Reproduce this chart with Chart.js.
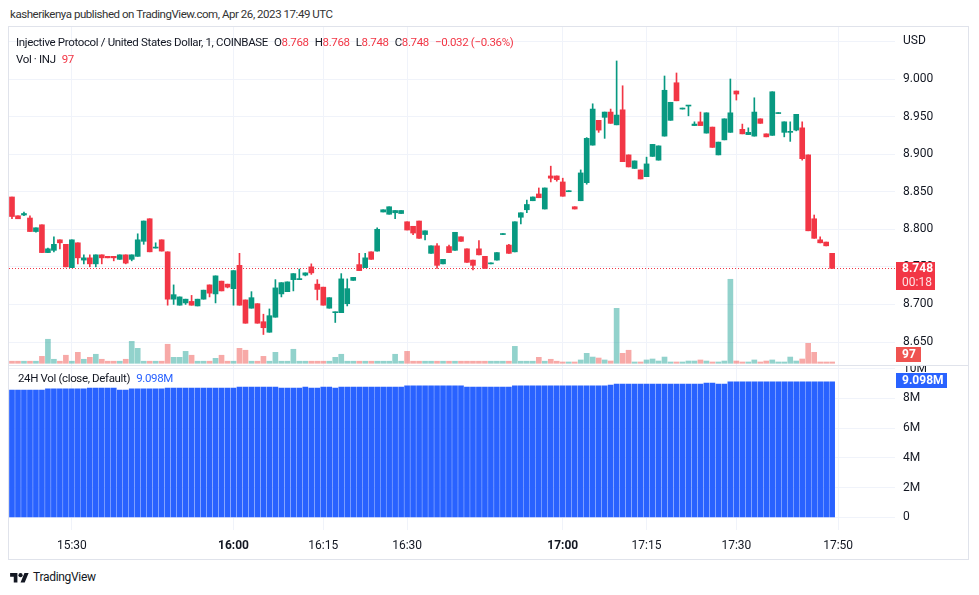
<!DOCTYPE html>
<html lang="en">
<head>
<meta charset="UTF-8">
<title>INJUSD 1m - TradingView</title>
<script src="https://cdn.jsdelivr.net/npm/chart.js"></script>
<style>
    * {
        margin: 0;
        padding: 0;
        box-sizing: border-box;
    }

    body {
        width: 979px;
        height: 595px;
        background: #fff;
        font-family: Roboto, 'Open Sans', sans-serif;
        color: #131722;
        position: relative;
        overflow: hidden;
    }

    .publisher {
        position: absolute;
        left: 10px;
        top: 6px;
        font-size: 11.5px;
        letter-spacing: -0.45px;
        line-height: 16px;
        color: #333;
    }

    .frame {
        position: absolute;
        left: 8px;
        top: 26px;
        width: 961px;
        height: 534px;
        border: 1px solid #e0e3eb;
    }

    .pane {
        position: absolute;
        left: 9px;
    }

    .separator {
        position: absolute;
        left: 9px;
        top: 365px;
        width: 959px;
        height: 1px;
        background: #e0e3eb;
    }

    .legend {
        position: absolute;
        font-size: 11.5px;
        letter-spacing: -0.35px;
        line-height: 16px;
        white-space: nowrap;
        z-index: 2;
    }

    .legend .item { margin-left: 6px; }
    .legend .red { color: #f23645; }
    .legend .blue { color: #2962ff; }

    .brand {
        position: absolute;
        left: 10px;
        top: 570px;
        display: flex;
        align-items: center;
        gap: 4px;
        font-size: 12px;
        letter-spacing: -0.3px;
        color: #131722;
    }
</style>
</head>
<body>
<div class="publisher">kasherikenya published on TradingView.com, Apr 26, 2023 17:49 UTC</div>
<div class="frame"></div>

<div class="pane" style="top:27px;width:959px;height:338px;">
    <canvas id="priceChart" width="959" height="338"></canvas>
</div>
<div class="separator"></div>
<div class="pane" style="top:366px;width:959px;height:193px;">
    <canvas id="volChart" width="959" height="193"></canvas>
</div>

<div class="legend" style="left:16px;top:34px;">Injective Protocol / United States Dollar, 1, COINBASE<span class="item">O<span class="red">8.768</span></span><span class="item">H<span class="red">8.768</span></span><span class="item">L<span class="red">8.748</span></span><span class="item">C<span class="red">8.748</span></span><span class="item red">−0.032 (−0.36%)</span></div>
<div class="legend" style="left:16px;top:51px;">Vol · INJ<span class="item red">97</span></div>
<div class="legend" style="left:18px;top:370px;">24H Vol (close, Default)<span class="item blue">9.098M</span></div>

<div class="brand">
    <svg width="19" height="12" viewBox="0 0 36 23"><path d="M14 22H7V11H0V4h14v18zM28 22h-8l7.5-18h8L28 22z" fill="#131722"/><circle cx="20" cy="8" r="4" fill="#131722"/></svg>
    <span>TradingView</span>
</div>

<script>
    // 1-minute candles, Apr 26 2023, INJ/USD on Coinbase
    const open = [
        8.843, 8.818, 8.819, 8.815, 8.797, 8.806, 8.769, 8.772, 8.786, 8.780,
        8.749, 8.782, 8.759, 8.762, 8.754, 8.766, 8.764, 8.764, 8.760, 8.766,
        8.760, 8.764, 8.784, 8.814, 8.775, 8.786, 8.770, 8.707, 8.699, 8.702,
        8.704, 8.698, 8.707, 8.726, 8.714, 8.731, 8.727, 8.721, 8.752, 8.706,
        8.695, 8.701, 8.677, 8.663, 8.683, 8.714, 8.717, 8.733, 8.733, 8.739,
        8.750, 8.727, 8.723, 8.695, 8.689, 8.689, 8.701, 8.732, 8.753, 8.749,
        8.770, 8.771, 8.823, 8.820, 8.822, 8.821, 8.810, 8.804, 8.811, 8.793,
        8.768, 8.778, 8.754, 8.777, 8.772, 8.790, 8.774, 8.759, 8.774, 8.764,
        8.754, 8.759, 8.793, 8.779, 8.770, 8.816, 8.826, 8.838, 8.847, 8.827,
        8.871, 8.871, 8.863, 8.850, 8.830, 8.838, 8.862, 8.912, 8.945, 8.949,
        8.956, 8.939, 8.959, 8.899, 8.881, 8.879, 8.870, 8.897, 8.892, 8.924,
        8.945, 8.995, 8.960, 8.964, 8.938, 8.943, 8.928, 8.936, 8.899, 8.919,
        8.929, 8.984, 8.933, 8.926, 8.924, 8.947, 8.927, 8.925, 8.954, 8.929,
        8.929, 8.932, 8.935, 8.899, 8.814, 8.786, 8.783, 8.768
    ];
    const high = [
        8.843, 8.818, 8.823, 8.818, 8.802, 8.806, 8.775, 8.790, 8.786, 8.780,
        8.786, 8.782, 8.766, 8.766, 8.766, 8.766, 8.764, 8.764, 8.766, 8.766,
        8.766, 8.794, 8.811, 8.814, 8.782, 8.786, 8.770, 8.726, 8.710, 8.707,
        8.712, 8.707, 8.719, 8.726, 8.738, 8.731, 8.727, 8.745, 8.768, 8.706,
        8.717, 8.701, 8.687, 8.694, 8.733, 8.729, 8.730, 8.741, 8.747, 8.742,
        8.754, 8.733, 8.723, 8.709, 8.690, 8.741, 8.734, 8.736, 8.768, 8.768,
        8.770, 8.802, 8.826, 8.830, 8.825, 8.825, 8.810, 8.804, 8.811, 8.798,
        8.778, 8.781, 8.760, 8.779, 8.796, 8.790, 8.774, 8.759, 8.785, 8.764,
        8.755, 8.769, 8.794, 8.780, 8.810, 8.822, 8.839, 8.843, 8.855, 8.855,
        8.884, 8.871, 8.868, 8.851, 8.830, 8.879, 8.922, 8.967, 8.945, 8.956,
        8.960, 9.024, 8.991, 8.899, 8.891, 8.879, 8.896, 8.913, 8.911, 9.004,
        8.969, 9.008, 8.961, 8.965, 8.943, 8.956, 8.955, 8.936, 8.916, 8.947,
        9.000, 8.984, 8.940, 8.935, 8.975, 8.947, 8.927, 8.983, 8.955, 8.943,
        8.943, 8.953, 8.943, 8.899, 8.819, 8.790, 8.783, 8.768
    ];
    const low = [
        8.814, 8.814, 8.818, 8.797, 8.796, 8.769, 8.769, 8.770, 8.774, 8.750,
        8.749, 8.754, 8.754, 8.750, 8.750, 8.754, 8.762, 8.758, 8.760, 8.754,
        8.758, 8.764, 8.780, 8.770, 8.775, 8.771, 8.699, 8.700, 8.699, 8.700,
        8.699, 8.698, 8.707, 8.710, 8.702, 8.718, 8.722, 8.699, 8.699, 8.675,
        8.695, 8.675, 8.660, 8.663, 8.683, 8.710, 8.717, 8.718, 8.733, 8.738,
        8.740, 8.706, 8.699, 8.695, 8.676, 8.689, 8.698, 8.732, 8.745, 8.749,
        8.760, 8.771, 8.823, 8.820, 8.814, 8.821, 8.799, 8.793, 8.788, 8.786,
        8.768, 8.748, 8.754, 8.769, 8.772, 8.784, 8.756, 8.746, 8.766, 8.748,
        8.754, 8.759, 8.793, 8.768, 8.770, 8.807, 8.822, 8.838, 8.842, 8.827,
        8.863, 8.864, 8.844, 8.850, 8.827, 8.838, 8.860, 8.912, 8.929, 8.921,
        8.941, 8.939, 8.890, 8.883, 8.881, 8.867, 8.870, 8.897, 8.892, 8.924,
        8.945, 8.971, 8.960, 8.951, 8.938, 8.938, 8.928, 8.909, 8.899, 8.919,
        8.929, 8.972, 8.927, 8.926, 8.924, 8.941, 8.923, 8.925, 8.954, 8.923,
        8.917, 8.931, 8.892, 8.798, 8.788, 8.782, 8.778, 8.748
    ];
    const close = [
        8.817, 8.814, 8.821, 8.797, 8.802, 8.769, 8.774, 8.780, 8.782, 8.750,
        8.786, 8.762, 8.762, 8.754, 8.766, 8.762, 8.762, 8.762, 8.766, 8.755,
        8.766, 8.786, 8.811, 8.770, 8.776, 8.771, 8.707, 8.713, 8.710, 8.707,
        8.699, 8.707, 8.719, 8.715, 8.738, 8.718, 8.723, 8.745, 8.699, 8.675,
        8.709, 8.675, 8.669, 8.685, 8.722, 8.729, 8.730, 8.741, 8.734, 8.742,
        8.742, 8.720, 8.699, 8.709, 8.690, 8.734, 8.721, 8.736, 8.745, 8.762,
        8.760, 8.800, 8.826, 8.830, 8.825, 8.825, 8.799, 8.795, 8.788, 8.798,
        8.778, 8.752, 8.760, 8.769, 8.796, 8.784, 8.756, 8.752, 8.766, 8.748,
        8.755, 8.769, 8.794, 8.768, 8.810, 8.822, 8.833, 8.843, 8.842, 8.855,
        8.868, 8.866, 8.844, 8.851, 8.827, 8.875, 8.921, 8.960, 8.932, 8.956,
        8.941, 8.952, 8.890, 8.883, 8.891, 8.867, 8.887, 8.913, 8.911, 8.985,
        8.969, 8.971, 8.961, 8.965, 8.940, 8.938, 8.955, 8.909, 8.916, 8.947,
        8.955, 8.980, 8.927, 8.929, 8.956, 8.941, 8.923, 8.983, 8.955, 8.943,
        8.930, 8.953, 8.894, 8.798, 8.788, 8.782, 8.778, 8.748
    ];
    // volume in INJ
    const volume = [
        150, 150, 150, 150, 150, 500, 1730, 290, 150, 580,
        150, 790, 290, 430, 650, 290, 150, 150, 150, 290,
        1580, 1080, 150, 150, 150, 150, 1370, 430, 430, 860,
        580, 150, 150, 150, 360, 580, 150, 150, 1080, 940,
        150, 150, 500, 150, 790, 150, 150, 1010, 150, 150,
        150, 150, 150, 150, 430, 650, 150, 150, 150, 150,
        150, 150, 150, 150, 650, 150, 860, 150, 150, 150,
        150, 150, 150, 150, 150, 150, 150, 150, 150, 150,
        150, 150, 150, 150, 1220, 150, 150, 150, 430, 150,
        290, 150, 95, 95, 95, 240, 720, 450, 380, 240,
        165, 3960, 720, 940, 95, 95, 240, 310, 165, 450,
        95, 95, 95, 165, 165, 240, 165, 95, 95, 165,
        6050, 165, 95, 95, 240, 95, 165, 240, 95, 95,
        450, 165, 310, 1440, 790, 95, 95, 97
    ];
    // 24H volume indicator, millions
    const vol24h = [
        8.56, 8.56, 8.56, 8.56, 8.56, 8.56, 8.64, 8.64, 8.64, 8.64,
        8.64, 8.64, 8.64, 8.69, 8.69, 8.69, 8.69, 8.69, 8.56, 8.56,
        8.64, 8.64, 8.64, 8.64, 8.64, 8.64, 8.69, 8.69, 8.69, 8.69,
        8.69, 8.69, 8.69, 8.69, 8.69, 8.69, 8.69, 8.69, 8.76, 8.76,
        8.76, 8.76, 8.76, 8.76, 8.76, 8.69, 8.69, 8.69, 8.69, 8.76,
        8.69, 8.69, 8.76, 8.76, 8.69, 8.76, 8.76, 8.76, 8.76, 8.76,
        8.76, 8.76, 8.76, 8.76, 8.76, 8.76, 8.83, 8.83, 8.83, 8.83,
        8.83, 8.83, 8.83, 8.83, 8.83, 8.83, 8.76, 8.76, 8.76, 8.76,
        8.76, 8.76, 8.76, 8.76, 8.83, 8.83, 8.83, 8.83, 8.83, 8.83,
        8.83, 8.83, 8.83, 8.83, 8.83, 8.83, 8.83, 8.83, 8.83, 8.83,
        8.89, 8.96, 8.96, 8.96, 8.96, 8.96, 8.96, 8.96, 8.96, 8.96,
        8.96, 8.96, 8.96, 8.96, 8.96, 8.96, 9.03, 9.03, 8.96, 8.96,
        9.098, 9.098, 9.098, 9.098, 9.098, 9.098, 9.098, 9.098, 9.098, 9.098,
        9.098, 9.098, 9.098, 9.098, 9.098, 9.098, 9.098, 9.098
    ];
    // minutes with no trades (no candle on the chart)
    const missingMinutes = ['15:37', '15:44', '15:52', '16:23', '16:36', '16:42', '16:48', '16:55', '17:08', '17:35', '17:40', '17:44'];
    const timeTicks = ['15:30', '16:00', '16:15', '16:30', '17:00', '17:15', '17:30', '17:50'];
    const priceTicks = [8.65, 8.70, 8.75, 8.80, 8.85, 8.90, 8.95, 9.00, 9.05];
    const vol24Ticks = [0, 2, 4, 6, 8, 10];
    const lastPrice = 8.748;
    const lastVolume = 97;
    const last24h = 9.098;

    const UP = '#089981';
    const DOWN = '#f23645';
    const GRID = '#f0f3fa';
    const TEXT = '#131722';

    // candle times 15:20 ... 17:49 plus empty slots up to 17:59 on the right
    const times = [];
    for (let m = 15 * 60 + 20; m <= 17 * 60 + 59; m++) {
        const t = Math.floor(m / 60) + ':' + String(m % 60).padStart(2, '0');
        if (!missingMinutes.includes(t)) times.push(t);
    }

    const isUp = open.map((o, i) => close[i] >= o);
    const candleColors = isUp.map(u => u ? UP : DOWN);
    const volColors = isUp.map(u => u ? 'rgba(38,166,154,0.5)' : 'rgba(239,83,80,0.5)');

    function keepTimeTicks(scale) {
        scale.ticks = scale.ticks.filter(t => timeTicks.includes(times[t.value]));
    }

    function badge(ctx, x, y, w, h, color) {
        ctx.fillStyle = color;
        ctx.fillRect(x, y, w, h);
    }

    // price line + right axis labels of the price pane
    const priceMarks = {
        id: 'priceMarks',
        afterDraw(chart) {
            const ctx = chart.ctx;
            const area = chart.chartArea;
            const y = Math.round(chart.scales.y.getPixelForValue(lastPrice));
            ctx.save();
            ctx.strokeStyle = DOWN;
            ctx.lineWidth = 1;
            ctx.setLineDash([1, 2]);
            ctx.beginPath();
            ctx.moveTo(area.left, y + 0.5);
            ctx.lineTo(area.right, y + 0.5);
            ctx.stroke();
            ctx.setLineDash([]);

            const bx = area.right + 1;
            badge(ctx, bx, y - 6, 39, 28, DOWN);
            ctx.textBaseline = 'middle';
            ctx.textAlign = 'left';
            ctx.fillStyle = '#fff';
            ctx.font = 'bold 12px Roboto';
            ctx.fillText(lastPrice.toFixed(3), bx + 6, y + 1);
            ctx.fillStyle = 'rgba(255,255,255,0.85)';
            ctx.font = '12px Roboto';
            ctx.fillText('00:18', bx + 6, y + 15);

            const vy = Math.round(chart.scales.yv.getPixelForValue(lastVolume));
            badge(ctx, bx, vy - 15, 25, 15, '#ef5350');
            ctx.fillStyle = '#fff';
            ctx.font = 'bold 12px Roboto';
            ctx.fillText(String(lastVolume), bx + 6, vy - 7);
            ctx.restore();
        }
    };

    const volMarks = {
        id: 'volMarks',
        afterDraw(chart) {
            const ctx = chart.ctx;
            const area = chart.chartArea;
            const y = Math.round(chart.scales.y.getPixelForValue(last24h * 1e6));
            ctx.save();
            badge(ctx, area.right + 1, y - 9, 51, 15, '#2962ff');
            ctx.fillStyle = '#fff';
            ctx.font = 'bold 12px Roboto';
            ctx.textBaseline = 'middle';
            ctx.textAlign = 'left';
            ctx.fillText(last24h.toFixed(3) + 'M', area.right + 7, y - 1);
            ctx.restore();
        }
    };

    Chart.defaults.font.family = 'Roboto';
    Chart.defaults.font.size = 12;
    Chart.defaults.color = TEXT;

    const fixedAxis = (w, h) => (scale) => {
        if (w !== undefined) scale.width = w;
        if (h !== undefined) scale.height = h;
        scale.paddingTop = 0;
        scale.paddingBottom = 0;
        scale.paddingLeft = 0;
        scale.paddingRight = 0;
    };

    new Chart(document.getElementById('priceChart'), {
        type: 'bar',
        data: {
            labels: times,
            datasets: [
                {
                    data: open.map((o, i) => [Math.min(o, close[i]), Math.max(o, close[i])]),
                    backgroundColor: candleColors,
                    barThickness: 5,
                    minBarLength: 1,
                    grouped: false,
                    order: 1
                },
                {
                    data: low.map((l, i) => [l, high[i]]),
                    backgroundColor: candleColors,
                    barThickness: 1,
                    minBarLength: 1,
                    grouped: false,
                    order: 2
                },
                {
                    data: volume,
                    yAxisID: 'yv',
                    backgroundColor: volColors,
                    barThickness: 5,
                    grouped: false,
                    order: 3
                }
            ]
        },
        options: {
            responsive: false,
            animation: false,
            devicePixelRatio: 1,
            layout: { padding: 0 },
            plugins: { legend: { display: false }, tooltip: { enabled: false } },
            scales: {
                x: {
                    type: 'category',
                    offset: true,
                    grid: { color: GRID, offset: false, drawTicks: false },
                    border: { display: false },
                    ticks: { display: false, autoSkip: false },
                    afterBuildTicks: keepTimeTicks,
                    afterFit: fixedAxis(undefined, 0)
                },
                y: {
                    position: 'right',
                    min: 8.6194,
                    max: 9.0692,
                    grid: { color: GRID, drawTicks: false },
                    border: { display: false },
                    ticks: {
                        padding: 8,
                        callback: v => Math.abs(v - 9.05) < 1e-6 ? 'USD' : v.toFixed(3)
                    },
                    afterBuildTicks: scale => { scale.ticks = priceTicks.map(v => ({ value: v })); },
                    afterFit: fixedAxis(73)
                },
                yv: {
                    display: false,
                    min: -122,
                    max: 24214
                }
            }
        },
        plugins: [priceMarks]
    });

    new Chart(document.getElementById('volChart'), {
        type: 'bar',
        data: {
            labels: times,
            datasets: [{
                data: vol24h.map(v => v * 1e6),
                backgroundColor: '#2962ff',
                barThickness: 5
            }]
        },
        options: {
            responsive: false,
            animation: false,
            devicePixelRatio: 1,
            layout: { padding: 0 },
            plugins: { legend: { display: false }, tooltip: { enabled: false } },
            scales: {
                x: {
                    type: 'category',
                    offset: true,
                    grid: { color: GRID, offset: false, drawTicks: false },
                    border: { display: false },
                    ticks: {
                        autoSkip: false,
                        maxRotation: 0,
                        padding: 9,
                        font: ctx => ({ weight: ctx.tick && String(ctx.tick.label).endsWith(':00') ? 'bold' : 'normal' })
                    },
                    afterBuildTicks: keepTimeTicks,
                    afterFit: fixedAxis(undefined, 29)
                },
                y: {
                    position: 'right',
                    min: -0.839e6,
                    max: 10.168e6,
                    grid: { color: GRID, drawTicks: false },
                    border: { display: false },
                    ticks: {
                        padding: 8,
                        callback: v => v === 0 ? '0' : Math.round(v / 1e6) + 'M'
                    },
                    afterBuildTicks: scale => { scale.ticks = vol24Ticks.map(v => ({ value: v * 1e6 })); },
                    afterFit: fixedAxis(73)
                }
            }
        },
        plugins: [volMarks]
    });
</script>
</body>
</html>
